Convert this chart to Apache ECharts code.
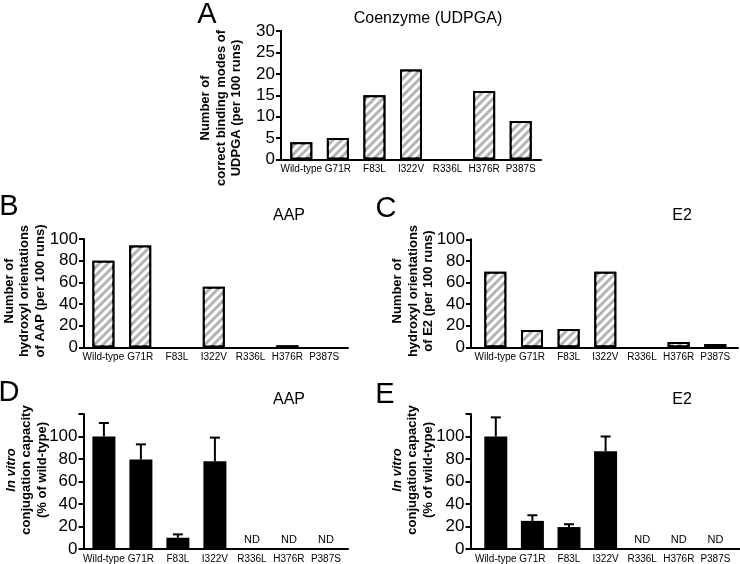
<!DOCTYPE html>
<html><head><meta charset="utf-8">
<script src="https://cdn.jsdelivr.net/npm/echarts@6/dist/echarts.min.js"></script>
<style>html,body{margin:0;padding:0;background:#fff}#c{width:740px;height:564px}</style>
</head><body><div id="c"></div>
<script>
// ---- data ----
const categories = ['Wild-type','G71R','F83L','I322V','R336L','H376R','P387S'];
const udpgaBindingModes = [4,5,15,21,0,16,9];
const aapOrientations = [80,94,0,56,0,2,0];
const e2Orientations = [70,16,17,70,0,5,3];
const aapCapacity = [100,79.5,10,78,null,null,null];
const aapCapacityErrTop = [112,93,13,99,null,null,null];
const e2Capacity = [100,25,19.5,87,null,null,null];
const e2CapacityErrTop = [117,30,22,100,null,null,null];
const aapNotDetected = ['','','','','ND','ND','ND'];
const e2NotDetected = ['','','','','ND','ND','ND'];
const ticksA = [0,5,10,15,20,25,30];
const ticksBC = [0,20,40,60,80,100];
const ticksDE = [0,20,40,60,80,100,120];
const ticksDELabelled = [0,20,40,60,80,100];

// ---- layout ----
const FONT = '"Liberation Sans", Arial, Helvetica, sans-serif';
const panels = [
  {frame:{left:281,top:31,width:260,height:128.5}, data:{left:283,width:256}, ticks:ticksA, labelled:ticksA, kind:'hatch', values:udpgaBindingModes},
  {frame:{left:84,top:239,width:264,height:108.5}, data:{left:85,width:257.6}, ticks:ticksBC, labelled:ticksBC, kind:'hatch', values:aapOrientations},
  {frame:{left:471,top:239.3,width:267,height:108}, data:{left:477,width:256.6}, ticks:ticksBC, labelled:ticksBC, kind:'hatch', values:e2Orientations},
  {frame:{left:83.5,top:414,width:264.5,height:135}, data:{left:85.4,width:259}, ticks:ticksDE, labelled:ticksDELabelled, kind:'solid', values:aapCapacity, err:aapCapacityErrTop, nd:aapNotDetected},
  {frame:{left:470.5,top:414,width:269.5,height:135}, data:{left:477.5,width:256.2}, ticks:ticksDE, labelled:ticksDELabelled, kind:'solid', values:e2Capacity, err:e2CapacityErrTop, nd:e2NotDetected}
];

const grid = [], xAxis = [], yAxis = [], series = [];
panels.forEach((p, k) => {
  const min = p.ticks[0], max = p.ticks[p.ticks.length-1], interval = p.ticks[1]-p.ticks[0];
  const fi = grid.length;
  grid.push({left:p.frame.left, top:p.frame.top, width:p.frame.width, height:p.frame.height});
  grid.push({left:p.data.left, top:p.frame.top, width:p.data.width, height:p.frame.height});
  const di = fi + 1;
  // frame axes
  xAxis.push({gridIndex:fi, type:'value', min:0, max:1,
    axisLine:{show:true, lineStyle:{color:'#000', width:2}}, axisTick:{show:false}, axisLabel:{show:false}, splitLine:{show:false}});
  yAxis.push({gridIndex:fi, type:'value', min, max, interval,
    axisLine:{show:true, lineStyle:{color:'#000', width:2}},
    axisTick:{show:true, length:5, lineStyle:{color:'#000', width:2}},
    axisLabel:{color:'#000', fontSize:17, fontFamily:FONT, margin:6,
      formatter: v => p.labelled.indexOf(v) >= 0 ? String(v) : ''},
    splitLine:{show:false}});
  // data axes
  xAxis.push({gridIndex:di, type:'category', data:categories,
    axisLine:{show:false}, axisTick:{show:false},
    axisLabel:{interval:0, color:'#000', fontSize:10, fontFamily:FONT, margin:5}});
  yAxis.push({gridIndex:di, type:'value', min, max, interval, show:false});
  const xi = xAxis.length - 1, yi = yAxis.length - 1;
  if (p.kind === 'hatch') {
    // zero counts draw no visible bar
    series.push({type:'bar', xAxisIndex:xi, yAxisIndex:yi, data:p.values.map(v => v === 0 ? '-' : v), barWidth:22,
      itemStyle:{color:'#b4b4b4', borderColor:'#000', borderWidth:2,
        decal:{symbol:'rect', symbolSize:1, dashArrayX:[1,0], dashArrayY:[2.2,2.2], rotation:-Math.PI/4, color:'#ffffff'}},
      silent:true, animation:false});
  } else {
    series.push({type:'bar', xAxisIndex:xi, yAxisIndex:yi, data:p.values.map(v => v == null ? '-' : v), barWidth:23, barGap:'-100%',
      itemStyle:{color:'#000'}, silent:true, animation:false});
    series.push({type:'bar', xAxisIndex:xi, yAxisIndex:yi, data:p.nd.map(s => s ? 0 : '-'), barWidth:23, barGap:'-100%',
      itemStyle:{color:'transparent'}, silent:true, animation:false,
      label:{show:true, position:'top', distance:4, color:'#000', fontSize:11, fontFamily:FONT,
        formatter: q => p.nd[q.dataIndex]}});
    const errData = [];
    p.values.forEach((v, i) => { if (v != null && p.err[i] != null) errData.push([i, v, p.err[i]]); });
    series.push({type:'custom', xAxisIndex:xi, yAxisIndex:yi, data:errData, encode:{x:0, y:[1,2]}, silent:true, animation:false, z:3,
      renderItem:(params, api) => {
        const i = api.value(0), v = api.value(1), e = api.value(2);
        const a = api.coord([i, v]), b = api.coord([i, e]);
        const hw = 5;
        return {type:'group', children:[
          {type:'line', shape:{x1:a[0], y1:a[1], x2:b[0], y2:b[1]}, style:{stroke:'#000', lineWidth:2}},
          {type:'line', shape:{x1:b[0]-hw, y1:b[1], x2:b[0]+hw, y2:b[1]}, style:{stroke:'#000', lineWidth:2}}
        ]};
      }});
  }
});

function txt(x, y, text, size) {
  return {type:'text', x, y, style:{text, fill:'#000', font:size + 'px ' + FONT, align:'center', verticalAlign:'middle'}};
}
function ytitle(x, y, text, rich) {
  return {type:'text', x, y, rotation:Math.PI/2, style:{text, fill:'#000', fontSize:13, fontWeight:'bold', fontFamily:FONT,
    align:'center', verticalAlign:'middle', lineHeight:15.5, rich:rich || {}}};
}
const italicRich = {i:{fontStyle:'italic', fontWeight:'bold', fontSize:13, fontFamily:FONT, lineHeight:15.5}};
const graphic = [
  txt(207, 15, 'A', 29), txt(9, 207, 'B', 29), txt(386, 209, 'C', 29), txt(9, 393, 'D', 29), txt(385, 395, 'E', 29),
  txt(428, 19, 'Coenzyme (UDPGA)', 16), txt(289, 216, 'AAP', 16), txt(682, 216, 'E2', 16),
  txt(289, 400, 'AAP', 16), txt(682, 400, 'E2', 16),
  ytitle(221, 108, 'Number of\ncorrect binding modes of\nUDPGA (per 100 runs)'),
  ytitle(24.5, 291, 'Number of\nhydroxyl orientations\nof AAP (per 100 runs)'),
  ytitle(413, 291, 'Number of\nhydroxyl orientations\nof E2 (per 100 runs)'),
  ytitle(26.5, 470, '{i|In vitro}\nconjugation capacity\n(% of wild-type)', italicRich),
  ytitle(412.5, 470, '{i|In vitro}\nconjugation capacity\n(% of wild-type)', italicRich)
];

const chart = echarts.init(document.getElementById('c'), null, {renderer:'canvas'});
chart.setOption({animation:false, backgroundColor:'#fff', grid, xAxis, yAxis, series, graphic});
</script></body></html>
